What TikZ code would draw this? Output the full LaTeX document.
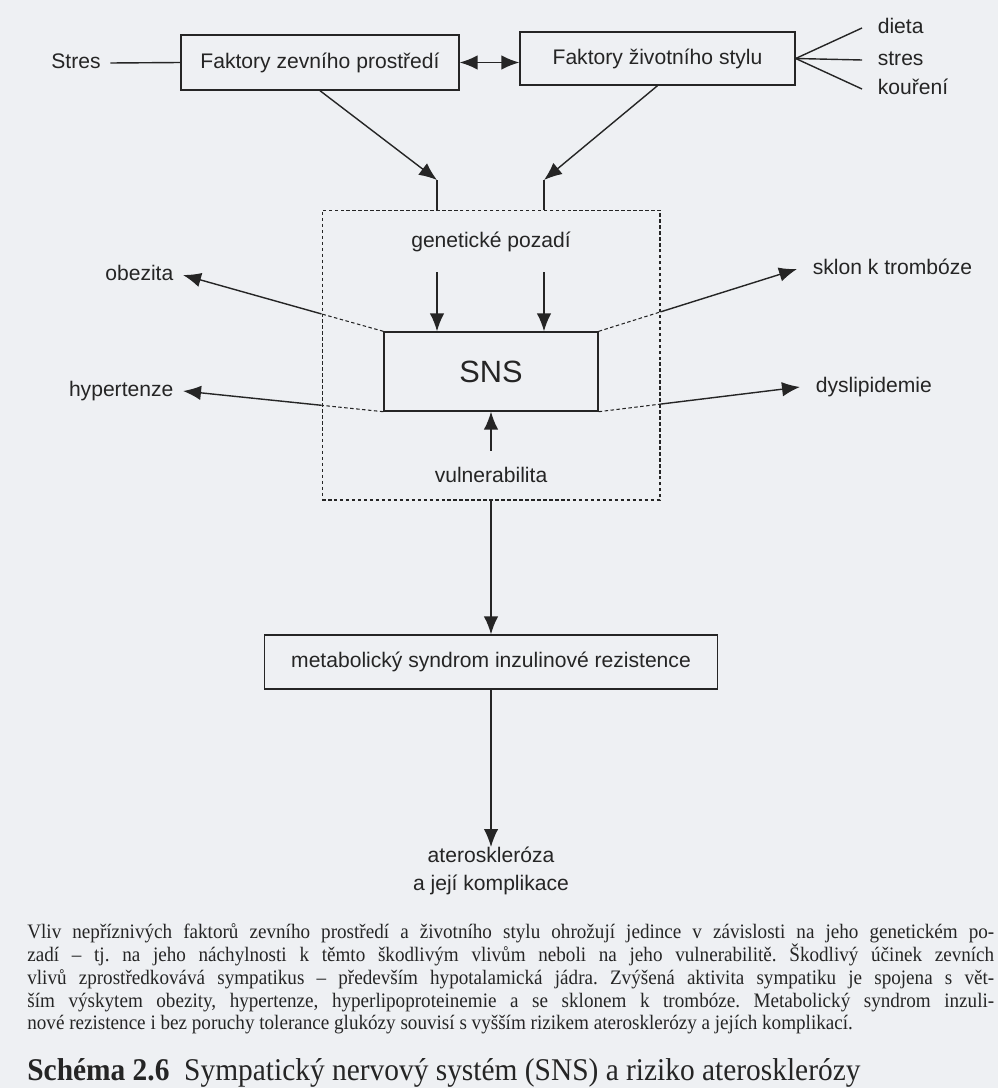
\documentclass[tikz,border=0pt]{standalone}
\usepackage{fontspec}
\setmainfont{Liberation Sans}
\newfontfamily\capfont[FakeStretch=0.93]{Liberation Serif}
\usetikzlibrary{arrows.meta}
\frenchspacing

\definecolor{paper}{HTML}{EEF0F3}
\definecolor{ink}{HTML}{252525}

\tikzset{
  box/.style={draw=ink, line width=0.8pt, fill=paper, inner sep=0pt,
    font=\fontsize{12}{14}\selectfont, text=ink},
  dashbox/.style={draw=ink, line width=0.6pt, dash pattern=on 2pt off 1.4pt, inner sep=0pt},
  lbl/.style={font=\fontsize{12}{14}\selectfont, text=ink, inner sep=0pt,
    text height=8.6pt, text depth=2.4pt},
  arr/.style={draw=ink, line width=0.8pt, -{Latex[length=3.6mm,width=2.9mm]}},
  ln/.style={draw=ink, line width=0.8pt},
  dln/.style={draw=ink, line width=0.6pt, dash pattern=on 2pt off 1.4pt},
  capline/.style={anchor=base west, inner sep=0pt, text=ink,
    font=\capfont\fontsize{11.7}{13}\selectfont},
}

\begin{document}
\begin{tikzpicture}[x=0.02cm, y=-0.02cm]
  \fill[paper] (0,0) rectangle (998,1088);
  \useasboundingbox (0,0) rectangle (998,1088);

  % top row
  \node[box, minimum width=5.56cm, minimum height=1.1cm] (zev) at (320,62.5) {Faktory zevního prostředí};
  \node[box, minimum width=5.5cm, minimum height=1.06cm] (ziv) at (657.5,58.5) {Faktory životního stylu};
  \node[lbl, outer sep=5.5pt] (stres) at (76,63) {Stres};
  \node[lbl, anchor=west, outer sep=9pt] (dieta) at (862,28) {dieta};
  \node[lbl, anchor=west, outer sep=9pt] (stres2) at (862,60) {stres};
  \node[lbl, anchor=west, outer sep=9pt] (kour) at (862,89) {kouření};

  \draw[ln] (stres.east) -- (zev.west);
  \draw[arr, {Latex[length=3.6mm,width=2.9mm]}-{Latex[length=3.6mm,width=2.9mm]}]
    (zev.east) -- (zev.east -| ziv.west);
  \draw[ln] (ziv.east) -- (dieta.west);
  \draw[ln] (ziv.east) -- (stres2.west);
  \draw[ln] (ziv.east) -- (kour.west);

  % genetic background and SNS
  \node[dashbox, minimum width=6.76cm, minimum height=5.8cm] (gen) at (491,355) {};
  \node[lbl] (genlbl) at (491,242) {genetické pozadí};
  \node[box, minimum width=4.28cm, minimum height=1.58cm,
    font=\fontsize{17.5}{20}\selectfont] (sns) at (491,371.5) {SNS};
  \node[lbl, outer sep=9.5pt] (vul) at (491,477) {vulnerabilita};

  \coordinate (g1) at (437,180);
  \coordinate (g2) at (544,180);
  \draw[arr] (zev.south) -- (g1);
  \draw[ln] (g1) -- (g1 |- gen.north);
  \draw[arr] (ziv.south) -- (g2);
  \draw[ln] (g2) -- (g2 |- gen.north);

  \coordinate (p1) at (437,272);
  \coordinate (p2) at (544,272);
  \draw[arr] (p1) -- (p1 |- sns.north);
  \draw[arr] (p2) -- (p2 |- sns.north);
  \draw[arr] (vul.north) -- (sns.south);

  % effects of SNS
  \node[lbl, anchor=east, outer sep=5.5pt] (obez) at (183,275) {obezita};
  \node[lbl, anchor=east, outer sep=5.5pt] (hyp) at (183,391) {hypertenze};
  \node[lbl, anchor=west, outer sep=9pt] (trom) at (797,269) {sklon k trombóze};
  \node[lbl, anchor=west, outer sep=9pt] (dys) at (800,387) {dyslipidemie};

  \coordinate (c1) at (intersection of sns.north west--obez.east and gen.north west--gen.south west);
  \coordinate (c2) at (intersection of sns.south west--hyp.east and gen.north west--gen.south west);
  \coordinate (c3) at (intersection of sns.north east--trom.west and gen.north east--gen.south east);
  \coordinate (c4) at (intersection of sns.south east--dys.west and gen.north east--gen.south east);
  \draw[dln] (sns.north west) -- (c1);
  \draw[arr] (c1) -- (obez.east);
  \draw[dln] (sns.south west) -- (c2);
  \draw[arr] (c2) -- (hyp.east);
  \draw[dln] (sns.north east) -- (c3);
  \draw[arr] (c3) -- (trom.west);
  \draw[dln] (sns.south east) -- (c4);
  \draw[arr] (c4) -- (dys.west);

  % metabolic syndrome and outcome
  \node[box, minimum width=9.06cm, minimum height=1.08cm] (met) at (491,662) {metabolický syndrom inzulinové rezistence};
  \node[lbl, anchor=north, align=center, text height=, text depth=, font=\fontsize{12}{16}\selectfont]
    (ath) at (491,847) {ateroskleróza\\a její komplikace};
  \draw[arr] (gen.south) -- (met.north);
  \draw[arr] (met.south) -- (ath.north);

  % caption
  \node[capline] (cap1) at (27,938) {\makebox[19.34cm][s]{Vliv nepříznivých faktorů zevního prostředí a životního stylu ohrožují jedince v závislosti na jeho genetickém po-}};
  \node[capline] (cap2) at (27,961) {\makebox[19.34cm][s]{zadí – tj. na jeho náchylnosti k těmto škodlivým vlivům neboli na jeho vulnerabilitě. Škodlivý účinek zevních}};
  \node[capline] (cap3) at (27,984) {\makebox[19.34cm][s]{vlivů zprostředkovává sympatikus – především hypotalamická jádra. Zvýšená aktivita sympatiku je spojena s vět-}};
  \node[capline] (cap4) at (27,1007) {\makebox[19.34cm][s]{ším výskytem obezity, hypertenze, hyperlipoproteinemie a se sklonem k trombóze. Metabolický syndrom inzuli-}};
  \node[capline] (cap5) at (27,1029) {nové rezistence i bez poruchy tolerance glukózy souvisí s vyšším rizikem aterosklerózy a jejích komplikací.};
  \node[capline, font=\capfont\fontsize{18}{20}\selectfont] (title) at (27,1080)
    {\textbf{Schéma 2.6}\ \ Sympatický nervový systém (SNS) a riziko aterosklerózy};
\end{tikzpicture}
\end{document}
